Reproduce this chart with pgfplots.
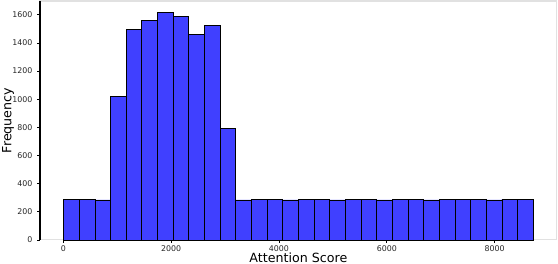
\documentclass[border=0pt]{standalone}
\usepackage{fontspec}
\setmainfont{DejaVu Sans}
\usepackage{pgfplots}
\pgfplotsset{compat=1.18}
\definecolor{barblue}{RGB}{64,64,255}
\definecolor{spinegray}{RGB}{225,225,225}
\begin{document}
\begin{tikzpicture}
\begin{axis}[
  scale only axis,
  width=387.75pt, height=179.25pt,
  xmin=-436, xmax=9156,
  ymin=0, ymax=1698,
  xtick={0,2000,4000,6000,8000},
  ytick={0,200,400,600,800,1000,1200,1400,1600},
  scaled ticks=false,
  /pgf/number format/assume math mode=true,
  /pgf/number format/set thousands separator={},
  tick label style={font=\fontsize{5.9pt}{7pt}\selectfont, text=black!85},
  xticklabel style={yshift=1.6pt},
  tick align=outside,
  major tick length=2.2pt,
  tick style={black, line width=0.5pt},
  xtick pos=bottom, ytick pos=left,
  axis line style={draw=spinegray, line width=0.8pt},
  xlabel={Attention Score},
  ylabel={Frequency},
  label style={font=\fontsize{9.5pt}{11pt}\selectfont},
  xlabel style={at={([yshift=-16.6pt]axis description cs:0.5,0)}, anchor=base},
  ylabel style={at={([xshift=-24pt]axis description cs:0,0.5)}, anchor=center},
  clip=false,
]
\addplot[ybar interval, fill=barblue, draw=black, line width=0.45pt] coordinates {
(0,290) (290.67,290) (581.33,285) (872,1020) (1162.67,1496) (1453.33,1560)
(1744,1617) (2034.67,1586) (2325.33,1458) (2616,1527) (2906.67,795)
(3197.33,285) (3488,290) (3778.67,290) (4069.33,285) (4360,290)
(4650.67,290) (4941.33,285) (5232,290) (5522.67,290) (5813.33,285)
(6104,290) (6394.67,290) (6685.33,285) (6976,290) (7266.67,290)
(7557.33,290) (7848,285) (8138.67,290) (8429.33,290) (8720,290)
};
\draw[black, line width=0.8pt] (rel axis cs:0,0) -- (rel axis cs:0,1);
\end{axis}
\pgfresetboundingbox
\useasboundingbox ([xshift=-30pt,yshift=-18pt]current axis.south west) rectangle ([xshift=0.9pt,yshift=0.75pt]current axis.north east);
\end{tikzpicture}
\end{document}
